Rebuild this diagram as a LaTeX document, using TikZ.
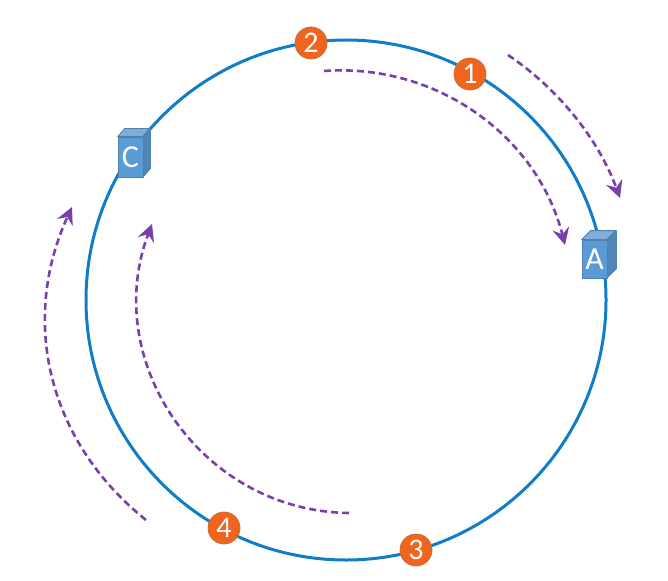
\documentclass[tikz,border=0pt]{standalone}
\usepackage{fontspec}
\setmainfont{Carlito}
\usetikzlibrary{arrows.meta}
\definecolor{ringblue}{HTML}{0F7DC8}
\definecolor{flowpurple}{HTML}{7A3FA8}
\definecolor{markorange}{HTML}{F0641E}
\definecolor{markedge}{HTML}{C8703C}
\definecolor{boxfront}{HTML}{5B9BD5}
\definecolor{boxtop}{HTML}{7FAEDD}
\definecolor{boxside}{HTML}{5085B8}
\definecolor{boxedge}{HTML}{4F81AD}
\tikzset{
  ringline/.style={circle,draw=ringblue,line width=3pt,minimum size=520pt,inner sep=0pt},
  marker/.style={circle,fill=markorange,draw=markedge,line width=0.8pt,minimum size=32pt,inner sep=0pt,text=white,font=\fontsize{30}{30}\selectfont},
  boxface/.style={draw=boxedge,line width=0.8pt,line join=round},
  serverbox/.style={rectangle,fill=boxfront,boxface,inner sep=0pt,text=white,font=\fontsize{32}{32}\selectfont},
  flow/.style={draw=flowpurple,line width=2.6pt,dash pattern=on 7pt off 4pt,-{Stealth[length=17pt,width=17pt,inset=6pt]}},
}
\begin{document}
\begin{tikzpicture}[x=1pt,y=-1pt]
\useasboundingbox (0,0) rectangle (668,580);
\node[ringline] (ring) at (346,300) {};

\coordinate (f1s) at (508,55);  \coordinate (f1e) at (620,198);
\coordinate (f2s) at (324,71);  \coordinate (f2e) at (565,245);
\coordinate (f3s) at (146,520); \coordinate (f3e) at (72,207);
\coordinate (f4s) at (349,513); \coordinate (f4e) at (152,224);
\draw[flow] (f1s) to[bend left=18,looseness=0.87] (f1e);
\draw[flow] (f2s) to[bend left=40,looseness=0.97] (f2e);
\draw[flow] (f3s) to[bend left=38,looseness=1.0] (f3e);
\draw[flow] (f4s) to[bend left=55,looseness=1.08] (f4e);

% server A
\node[serverbox,minimum width=25pt,minimum height=38pt] (A) at (594.5,259) {A};
\fill[boxtop,boxface] (A.north west) -- ++(9,-9) -- ++(25,0) -- ++(-9,9) -- cycle;
\fill[boxside,boxface] (A.north east) -- ++(9,-9) -- ++(0,38) -- ++(-9,9) -- cycle;
% server C
\node[serverbox,minimum width=25pt,minimum height=40pt] (C) at (130.5,157) {C};
\fill[boxtop,boxface] (C.north west) -- ++(7,-8) -- ++(25,0) -- ++(-7,8) -- cycle;
\fill[boxside,boxface] (C.north east) -- ++(7,-8) -- ++(0,40) -- ++(-7,8) -- cycle;

\node[marker] (m1) at (470,74) {1};
\node[marker] (m2) at (311,43) {2};
\node[marker] (m3) at (416,550) {3};
\node[marker] (m4) at (224,528) {4};
\end{tikzpicture}
\end{document}
